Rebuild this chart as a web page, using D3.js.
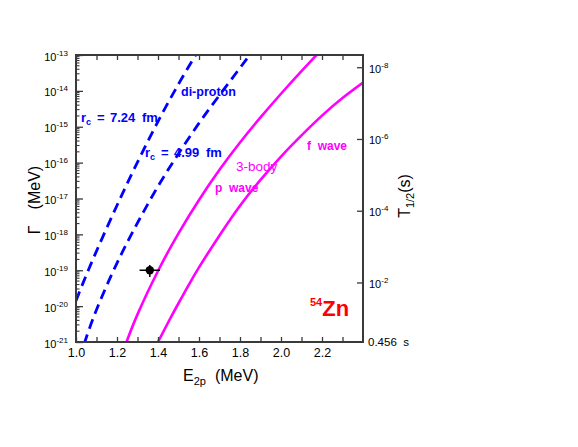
<!DOCTYPE html>
<html>
<head>
<meta charset="utf-8">
<script src="https://cdn.jsdelivr.net/npm/d3@7"></script>
<style>
  html, body { margin: 0; padding: 0; background: #fff; }
  svg { display: block; }
  text { font-family: "Liberation Sans", Arial, sans-serif; }
</style>
</head>
<body>
<svg id="chart" width="578" height="447"></svg>
<script>
// ---------- data ----------
// di-proton, r_c = 7.24 fm (dashed blue)
const energyDiproton724 = [1.00, 1.06, 1.15, 1.25, 1.35, 1.45, 1.55, 1.62];
const logGammaDiproton724 = [-19.85, -19.0, -17.82, -16.58, -15.41, -14.32, -13.32, -12.67];
// di-proton, r_c = 4.99 fm (dashed blue)
const energyDiproton499 = [1.04, 1.10, 1.20, 1.30, 1.40, 1.50, 1.60, 1.70, 1.80, 1.86];
const logGammaDiproton499 = [-21.05, -20.1, -18.8, -17.68, -16.66, -15.75, -14.9, -14.12, -13.36, -12.9];
// 3-body, p wave (magenta)
const energyPwave = [1.24, 1.30, 1.40, 1.50, 1.60, 1.70, 1.80, 1.90, 2.00, 2.10, 2.20, 2.25];
const logGammaPwave = [-21.1, -20.23, -19.02, -17.97, -17.04, -16.2, -15.44, -14.74, -14.08, -13.45, -12.84, -12.55];
// 3-body, f wave (magenta)
const energyFwave = [1.39, 1.45, 1.50, 1.55, 1.60, 1.70, 1.80, 1.90, 2.00, 2.10, 2.20, 2.30, 2.41];
const logGammaFwave = [-21.11, -20.45, -19.92, -19.41, -18.92, -18.03, -17.2, -16.48, -15.83, -15.24, -14.69, -14.2, -13.73];
// experimental point
const expEnergy = [1.36];
const expEnergyErr = [0.05];
const expGamma = [1.0e-19];
const expGammaLow = [0.65e-19];
const expGammaHigh = [1.4e-19];

// axes
const xDomain = [1.0, 2.4];
const xLabelTicks = [1.0, 1.2, 1.4, 1.6, 1.8, 2.0, 2.2];
const xMinorTicks = [1.1, 1.3, 1.5, 1.7, 1.9, 2.1, 2.3];
const yExponents = [-13, -14, -15, -16, -17, -18, -19, -20, -21];
const halfLifeExponents = [-8, -6, -4, -2];
const hbarLn2 = 4.562e-22; // MeV s, T1/2 = hbar ln2 / Gamma

// ---------- layout ----------
const L = 76, R = 363, T = 55, B = 342;
const svg = d3.select("#chart");

const x = d3.scaleLinear().domain(xDomain).range([L, R]);
const y = d3.scaleLog().domain([1e-21, 1e-13]).range([B, T]);
const yT = d3.scaleLog().domain([hbarLn2 / 1e-21, hbarLn2 / 1e-13]).range([B, T]);

const frameColor = "#3a3a3a";

svg.append("defs").append("clipPath").attr("id", "clip")
  .append("rect").attr("x", L).attr("y", T).attr("width", R - L).attr("height", B - T);

// ---------- curves ----------
const line = d3.line()
  .x(d => x(d[0]))
  .y(d => y(Math.pow(10, d[1])))
  .curve(d3.curveNatural);

const plot = svg.append("g").attr("clip-path", "url(#clip)");

function drawCurve(es, ls, color, dash) {
  const pts = es.map((e, i) => [e, ls[i]]);
  const p = plot.append("path").datum(pts)
    .attr("d", line)
    .attr("fill", "none")
    .attr("stroke", color)
    .attr("stroke-width", dash ? 2.8 : 2.6);
  if (dash) p.attr("stroke-dasharray", dash);
}
drawCurve(energyDiproton724, logGammaDiproton724, "#0000ff", "10,6");
drawCurve(energyDiproton499, logGammaDiproton499, "#0000ff", "10,6");
drawCurve(energyPwave, logGammaPwave, "#ff00ff", null);
drawCurve(energyFwave, logGammaFwave, "#ff00ff", null);

// experimental point
expEnergy.forEach((e, i) => {
  plot.append("line")
    .attr("x1", x(e - expEnergyErr[i])).attr("x2", x(e + expEnergyErr[i]))
    .attr("y1", y(expGamma[i])).attr("y2", y(expGamma[i]))
    .attr("stroke", "#000").attr("stroke-width", 1.5);
  plot.append("line")
    .attr("x1", x(e)).attr("x2", x(e))
    .attr("y1", y(expGammaLow[i])).attr("y2", y(expGammaHigh[i]))
    .attr("stroke", "#000").attr("stroke-width", 1.5);
  plot.append("circle")
    .attr("cx", x(e)).attr("cy", y(expGamma[i])).attr("r", 4.2)
    .attr("fill", "#000");
});

// ---------- axes ----------
function supLabel(sel, base, expFn, fs, supFs) {
  sel.each(function(d) {
    const t = d3.select(this);
    t.text(null);
    t.append("tspan").text(base).attr("font-size", fs);
    t.append("tspan").text(expFn(d)).attr("font-size", supFs).attr("dy", -5);
  });
}

// bottom
const xAxis = svg.append("g").attr("transform", `translate(0,${B})`)
  .call(d3.axisBottom(x).tickValues(xLabelTicks.concat(xMinorTicks))
    .tickSize(-5).tickPadding(6)
    .tickFormat(d => xLabelTicks.includes(d) ? d3.format(".1f")(d) : ""));
xAxis.select(".domain").remove();
xAxis.selectAll("line").attr("stroke", frameColor).attr("stroke-width", 1.3);
xAxis.selectAll("text").attr("font-size", 12.5).attr("fill", "#000").attr("font-family", "Liberation Sans, Arial, sans-serif");

// top
const xTop = svg.append("g").attr("transform", `translate(0,${T})`)
  .call(d3.axisTop(x).tickValues(xLabelTicks.concat(xMinorTicks)).tickSize(-5).tickFormat(""));
xTop.select(".domain").remove();
xTop.selectAll("line").attr("stroke", frameColor).attr("stroke-width", 1.3);

// left
const yMajor = yExponents.map(e => Math.pow(10, e));
const yAxis = svg.append("g").attr("transform", `translate(${L},0)`)
  .call(d3.axisLeft(y).tickValues(yMajor).tickSize(-7).tickPadding(8));
yAxis.select(".domain").remove();
yAxis.selectAll("line").attr("stroke", frameColor).attr("stroke-width", 1.3);
yAxis.selectAll("text").attr("fill", "#000").attr("font-family", "Liberation Sans, Arial, sans-serif");
supLabel(yAxis.selectAll(".tick text"), "10", d => "-" + Math.round(-Math.log10(d)), 11, 8);
yAxis.selectAll(".tick text").attr("dy", "0.5em");

// left minor ticks
const yMinor = [];
yExponents.slice(1).forEach(e => { for (let k = 2; k <= 9; k++) yMinor.push(k * Math.pow(10, e)); });
svg.append("g").selectAll("line").data(yMinor).join("line")
  .attr("x1", L).attr("x2", L + 3.5)
  .attr("y1", d => y(d)).attr("y2", d => y(d))
  .attr("stroke", frameColor).attr("stroke-width", 1.1);

// right axis: T1/2
const tVals = halfLifeExponents.map(e => Math.pow(10, e));
const yRight = svg.append("g").attr("transform", `translate(${R},0)`)
  .call(d3.axisRight(yT).tickValues(tVals).tickSize(-6).tickPadding(6));
yRight.select(".domain").remove();
yRight.selectAll("line").attr("stroke", frameColor).attr("stroke-width", 1.3);
yRight.selectAll("text").attr("fill", "#000").attr("font-family", "Liberation Sans, Arial, sans-serif");
supLabel(yRight.selectAll(".tick text"), "10", d => "-" + Math.round(-Math.log10(d)), 11, 8);
yRight.selectAll(".tick text").attr("dy", "0.5em");
svg.append("text").attr("x", R + 5).attr("y", B + 4)
  .attr("font-size", 11.5).attr("fill", "#000").style("white-space", "pre")
  .text(d3.format(".3f")(hbarLn2 / 1e-21) + "  s");

// frame
svg.append("rect").attr("x", L).attr("y", T).attr("width", R - L).attr("height", B - T)
  .attr("fill", "none").attr("stroke", frameColor).attr("stroke-width", 2);

// ---------- titles ----------
const xt = svg.append("text").attr("x", 183).attr("y", 381).attr("font-size", 16).attr("fill", "#000");
xt.append("tspan").text("E");
xt.append("tspan").text("2p").attr("font-size", 11).attr("dy", 4);
xt.append("tspan").text("(MeV)").attr("dy", -4).attr("dx", 9);

const yt = svg.append("text").attr("transform", "translate(40,200) rotate(-90)")
  .attr("text-anchor", "middle").attr("font-size", 16).attr("fill", "#000");
yt.append("tspan").text("Γ");
yt.append("tspan").text("(MeV)").attr("dx", 16);

const rt = svg.append("text").attr("transform", "translate(410,196) rotate(-90)")
  .attr("text-anchor", "middle").attr("font-size", 16).attr("fill", "#000");
rt.append("tspan").text("T");
rt.append("tspan").text("1/2").attr("font-size", 11).attr("dy", 4);
rt.append("tspan").text("(s)").attr("dy", -4);

// ---------- annotations ----------
function rcLabel(xp, yp, val) {
  const g = svg.append("g").attr("fill", "#0000ff").attr("font-weight", "bold");
  const t = g.append("text").attr("x", xp).attr("y", yp).attr("font-size", 13);
  t.append("tspan").text("r");
  t.append("tspan").text("c").attr("font-size", 9).attr("dy", 3);
  g.append("text").attr("x", xp + 16).attr("y", yp).attr("font-size", 13).text("=");
  g.append("text").attr("x", xp + 29).attr("y", yp).attr("font-size", 13).text(val);
  g.append("text").attr("x", xp + 61).attr("y", yp).attr("font-size", 13).text("fm");
}
rcLabel(81, 122, "7.24");
rcLabel(145, 157, "4.99");
svg.append("text").attr("x", 181).attr("y", 96).attr("font-size", 12.5)
  .attr("font-weight", "bold").attr("fill", "#0000ff").text("di-proton");
svg.append("text").attr("x", 236).attr("y", 171).attr("font-size", 13.5)
  .attr("fill", "#ff00ff").text("3-body");
svg.append("text").attr("x", 215).attr("y", 192).attr("font-size", 12)
  .attr("font-weight", "bold").attr("fill", "#ff00ff").style("white-space", "pre").text("p  wave");
svg.append("text").attr("x", 307).attr("y", 150).attr("font-size", 12)
  .attr("font-weight", "bold").attr("fill", "#ff00ff").style("white-space", "pre").text("f  wave");
const zn = svg.append("text").attr("x", 310).attr("y", 316).attr("fill", "#ff0000").attr("font-weight", "bold");
zn.append("tspan").text("54").attr("font-size", 11).attr("dy", -10);
zn.append("tspan").text("Zn").attr("font-size", 22).attr("dy", 10);
</script>
</body>
</html>
